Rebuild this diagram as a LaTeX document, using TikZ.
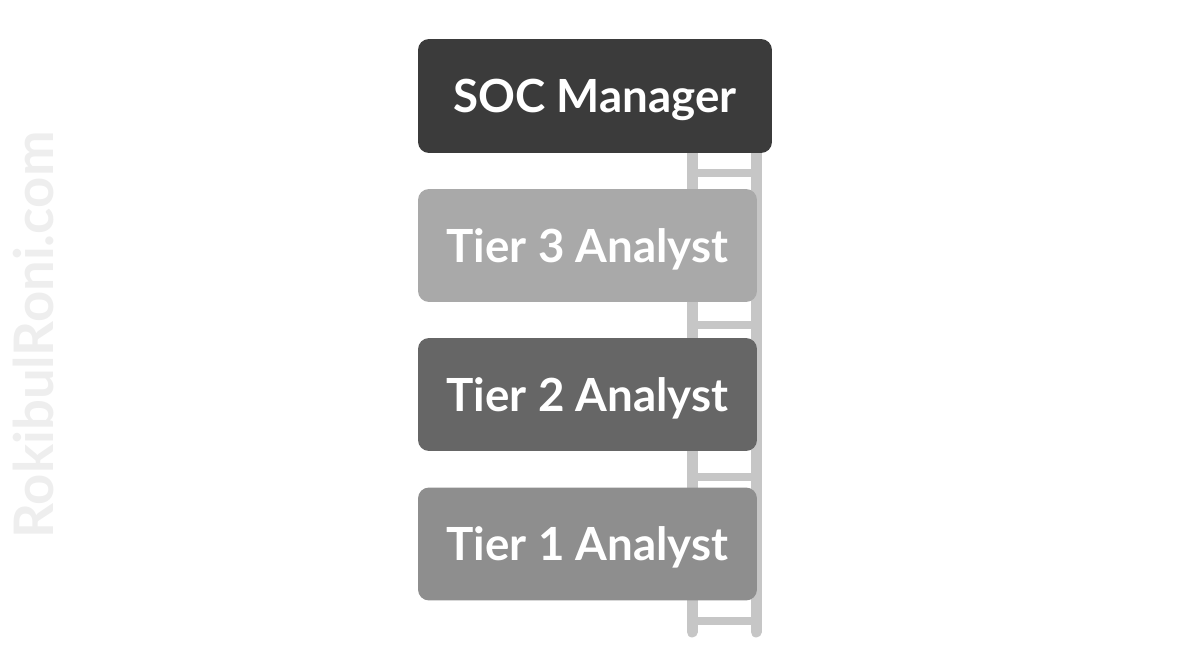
\documentclass[tikz,border=0pt]{standalone}
\usepackage{fontspec}
\setmainfont{Lato}
\definecolor{mgrgray}{HTML}{3B3B3B}
\definecolor{tthree}{HTML}{A9A9A9}
\definecolor{ttwo}{HTML}{666666}
\definecolor{tone}{HTML}{8E8E8E}
\definecolor{laddergray}{HTML}{C6C6C6}
\definecolor{markgray}{HTML}{EEEEEE}
\tikzset{
  rolebox/.style={rectangle,rounded corners=0.22cm,text=white,text depth=0pt,
    font=\fontsize{26}{30}\selectfont\bfseries,inner sep=0pt},
  rail/.style={laddergray,line width=0.22cm,line cap=round},
  rung/.style={laddergray,line width=0.15cm}
}
\begin{document}
\begin{tikzpicture}[x=0.02cm,y=-0.02cm]
                \useasboundingbox (0,0) rectangle (1200,671);
                % ladder behind the boxes
                \draw[rail] (692,150)--(692,632);
                \draw[rail] (756,150)--(756,632);
                \foreach \r in {173,325,477,621}
                    \draw[rung] (692,\r)--(756,\r);
                % roles
                \node[rolebox,fill=mgrgray,minimum width=7.08cm,minimum height=2.28cm] (mgr) at (595,96) {SOC Manager};
                \node[rolebox,fill=tthree,minimum width=6.78cm,minimum height=2.26cm] (tier3) at (587.5,245.5) {Tier 3 Analyst};
                \node[rolebox,fill=ttwo,minimum width=6.78cm,minimum height=2.26cm] (tier2) at (587.5,394.5) {Tier 2 Analyst};
                \node[rolebox,fill=tone,minimum width=6.78cm,minimum height=2.26cm] (tier1) at (587.5,544) {Tier 1 Analyst};
                % watermark
                \node[rotate=90,text=markgray,font=\fontsize{31}{36}\selectfont\bfseries] (mark) at (33,335) {RokibulRoni.com};
            \end{tikzpicture}
\end{document}
